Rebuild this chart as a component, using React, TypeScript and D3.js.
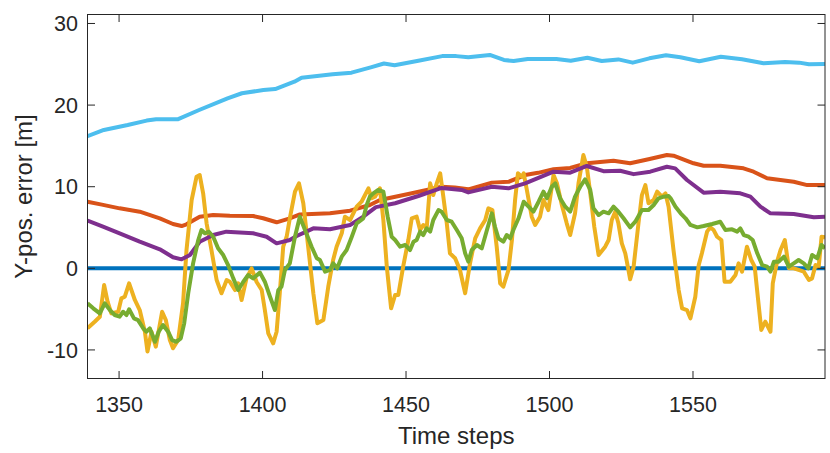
import React from "react";
import * as d3 from "d3";

const xTicks = [1350, 1400, 1450, 1500, 1550];
const yTicks = [-10, 0, 10, 20, 30];
const xDomain = [1339, 1596];
const yDomain = [-13.5, 31.1];

const zeroLine: [number, number][] = [[1339, 0], [1596, 0]];

const orangeSeries: [number, number][] = [[1339,8.16],[1344,7.8],[1350.2,7.35],[1357.2,6.94],[1364.2,6.13],[1368.8,5.43],[1371.8,5.18],[1373.5,5.39],[1378.1,6.33],[1382.8,6.53],[1388.6,6.45],[1396.7,6.41],[1400.2,6.13],[1404.9,5.64],[1409.5,6.13],[1413,6.6],[1423.5,6.74],[1430.5,7.06],[1437.4,7.76],[1440.9,8.37],[1450.8,9.1],[1462.4,10.0],[1467,9.9],[1471.7,9.68],[1479.9,10.5],[1485.7,10.6],[1491.5,11.43],[1496,11.7],[1501.4,12.13],[1507.2,12.3],[1513,12.87],[1522.3,13.19],[1528.1,12.87],[1534.5,13.36],[1540.9,13.88],[1543.2,13.8],[1550.2,12.87],[1553.7,12.57],[1559.5,12.57],[1567.6,12.25],[1571.1,11.84],[1575.8,11.03],[1585.1,10.6],[1589.8,10.2],[1596,10.2]];

const yellowSeries: [number, number][] = [[1339,-7.35],[1341.5,-6.54],[1343.3,-5.93],[1344.8,-2.05],[1346,-4.09],[1347.3,-5.52],[1349.7,-5.32],[1350.8,-3.68],[1352,-3.48],[1353.5,-1.84],[1355.5,-3.88],[1357.2,-5.11],[1359,-7.77],[1359.9,-10.2],[1361.3,-7.77],[1362.8,-9.6],[1365,-5.32],[1366.3,-6.34],[1367.7,-8.79],[1368.8,-9.8],[1370.6,-8.79],[1372.3,-4.29],[1373.5,2.24],[1375.3,8.37],[1377,11.23],[1378.1,11.43],[1379.3,9.19],[1380.5,5.51],[1382.2,2.24],[1384,-1.43],[1385.7,-3.06],[1387.5,-1.43],[1388.6,-1.64],[1390.4,-2.66],[1391.5,-1.84],[1392.7,-3.88],[1394.4,-1.23],[1396.2,0],[1397.9,-1.64],[1399.7,-2.66],[1400.8,-5.11],[1402,-7.97],[1403.7,-9.19],[1404.9,-7.77],[1406,-3.06],[1407.2,2.65],[1408.4,3.87],[1409.5,6.13],[1411.3,9.39],[1412.7,10.41],[1414.2,7.97],[1415.9,2.65],[1417.7,-3.06],[1419.1,-6.74],[1421.2,-6.34],[1422.9,-2.25],[1424.6,1.02],[1425.8,2.65],[1427.6,4.29],[1428.7,6.33],[1430.5,5.92],[1432.8,7.55],[1434.5,8.16],[1436.9,9.8],[1438,8.58],[1439.2,8.78],[1440.9,9.8],[1442.1,5.92],[1443.3,0.2],[1444.8,-4.9],[1446.2,-3.27],[1447.3,-3.27],[1449,0.2],[1450.8,3.47],[1452,6.13],[1453.7,6.33],[1454.9,4.69],[1456,5.31],[1457.2,4.9],[1458.4,10.41],[1459.5,8.98],[1460.7,10.41],[1461.9,11.64],[1463,8.78],[1464.2,5.51],[1465.3,1.84],[1467.1,1.23],[1468.8,-0.2],[1470.6,-3.06],[1472.3,0.61],[1474.1,3.68],[1475.8,4.9],[1477.6,5.92],[1478.7,7.35],[1480.1,7.14],[1481.6,2.65],[1482.8,-1.84],[1483.9,-2.25],[1485.7,-0.2],[1486.9,3.47],[1488,8.37],[1489,11.64],[1490.4,11.23],[1491,11.64],[1492.1,9.6],[1493.8,6.33],[1495,5.31],[1496.7,6.33],[1497.9,8.37],[1499.6,7.14],[1501.4,11.43],[1502.6,10.41],[1504.3,7.76],[1506,5.51],[1507.2,4.08],[1508.9,6.74],[1510.1,10.41],[1511.8,13.88],[1513,12.45],[1514.2,9.19],[1515.6,5.1],[1517.1,1.63],[1519.4,2.65],[1520.6,3.47],[1521.7,5.92],[1522.9,6.94],[1524,5.51],[1525.2,3.06],[1526.4,1.84],[1527.5,-0.2],[1528.1,-1.35],[1529.3,0.2],[1531,5.51],[1532.2,8.98],[1533.4,10.2],[1534.5,7.97],[1536.3,8.37],[1537.5,9.39],[1539.2,8.78],[1540.4,9.19],[1541.5,7.55],[1543.2,2.24],[1545,-2.66],[1546.2,-4.9],[1547.9,-5.11],[1549.1,-6.13],[1550.8,-3.48],[1552,0.4],[1553.1,1.84],[1554.9,4.49],[1556,5.02],[1557.2,4.69],[1558.4,3.87],[1559.9,3.47],[1561,-1.64],[1563,-1.64],[1564.8,-0.82],[1565.9,0.61],[1567.1,-0.41],[1568.8,2.65],[1570.3,1.02],[1571.5,0.2],[1572.7,-3.88],[1573.8,-7.55],[1575.2,-6.54],[1577,-7.77],[1577.8,-1.84],[1579.3,0.82],[1580.5,2.24],[1582,3.47],[1583.4,0],[1585.1,0],[1586.8,-0.2],[1588.6,-0.41],[1590.4,-1.43],[1591.5,-1.23],[1592.7,0.4],[1593.8,0.2],[1594.8,3.87],[1596,3.8]];

const purpleSeries: [number, number][] = [[1339,5.84],[1344.4,5.1],[1350.2,4.29],[1357.2,3.26],[1364.2,2.33],[1368.8,1.35],[1371.8,1.1],[1374.7,1.63],[1378.1,3.26],[1382.8,4.08],[1387.4,4.49],[1396.7,4.29],[1401.4,3.87],[1404.9,3.06],[1409.5,3.47],[1411.9,3.96],[1417.7,4.9],[1423.5,4.78],[1430.5,5.31],[1435.1,6.33],[1439.5,7.5],[1446.2,7.97],[1454.3,8.86],[1462.4,9.85],[1469.4,9.6],[1471.7,9.3],[1479.9,10.0],[1485.7,9.8],[1491.5,10.4],[1501.4,11.84],[1507.2,11.72],[1513,12.54],[1518.8,11.9],[1524.6,11.96],[1529.3,11.54],[1535.1,11.84],[1540.9,12.45],[1543.8,12.25],[1547.9,10.82],[1553.7,9.27],[1559.5,9.39],[1566.5,9.19],[1570,8.78],[1573.5,7.55],[1577,6.74],[1585.1,6.65],[1592.1,6.25],[1596,6.33]];

const greenSeries: [number, number][] = [[1339,-4.29],[1341,-4.9],[1343.3,-5.52],[1345,-4.29],[1346.8,-5.11],[1348.5,-5.72],[1350.2,-5.93],[1351.4,-5.32],[1352.6,-5.72],[1353.5,-5.02],[1355.2,-6.13],[1356.6,-6.34],[1358.4,-7.35],[1359.5,-7.77],[1360.7,-7.35],[1362.5,-9.0],[1363.8,-7.77],[1365.3,-6.95],[1367.1,-7.77],[1368.5,-8.79],[1370,-9.0],[1371.5,-8.58],[1372.7,-6.74],[1374.1,-3.06],[1375.8,0.61],[1377.6,3.47],[1378.7,4.69],[1379.9,4.29],[1381.3,4.49],[1382.8,3.87],[1384.5,2.45],[1386.3,1.63],[1388,0.4],[1389.8,-1.23],[1391.5,-2.66],[1393.3,-1.64],[1395,-0.82],[1396.7,-1.23],[1399.1,-0.53],[1400.8,-1.64],[1402.6,-3.48],[1404.3,-5.11],[1405.5,-2.66],[1406.6,-2.25],[1407.8,-0.2],[1409.5,0.61],[1411.3,3.87],[1413,6.33],[1414.8,4.69],[1417.1,2.65],[1418.9,1.23],[1420,1.02],[1421.8,-0.41],[1423.5,-0.2],[1424.6,0.61],[1426,0],[1427.6,1.43],[1429.3,2.24],[1431.1,3.87],[1432.8,5.51],[1435.1,6.13],[1436.3,7.76],[1437.4,8.78],[1438.6,9.19],[1440.3,9.6],[1442.1,9.39],[1443.6,6.33],[1445,3.87],[1446.2,3.47],[1447.9,2.65],[1449.7,2.86],[1451.4,2.24],[1452.6,3.26],[1453.7,3.47],[1454.9,4.49],[1456,4.08],[1457.2,4.9],[1458.4,4.49],[1459.5,5.92],[1461.3,7.14],[1462.4,6.94],[1464.2,5.92],[1465.9,5.71],[1467.7,4.69],[1469.4,3.68],[1470.6,1.84],[1471.7,0.82],[1472.9,2.24],[1474.7,2.86],[1476.4,2.45],[1478.2,4.69],[1479.9,6.74],[1481,5.1],[1482.2,3.68],[1483.9,3.26],[1485.1,4.08],[1486.3,3.68],[1487.4,4.69],[1489.2,6.13],[1491,8.16],[1492.7,7.55],[1494.4,6.94],[1496.2,8.16],[1497.9,9.39],[1499.1,8.58],[1500.8,10.0],[1502,10.41],[1503.7,8.58],[1505.5,7.55],[1507.2,6.94],[1508.9,8.78],[1510.7,10.0],[1512.4,10.9],[1514.2,9.6],[1515.3,7.35],[1517.1,6.53],[1518.8,6.94],[1520.6,6.74],[1522.3,7.55],[1524,6.94],[1525.8,6.13],[1528.1,5.02],[1529.9,5.71],[1532.2,7.14],[1534.5,7.14],[1536.3,7.76],[1538,8.58],[1539.8,8.78],[1541.5,8.86],[1542.2,8.58],[1543.9,7.55],[1545.7,6.74],[1547.4,6.13],[1549.1,5.31],[1551.5,5.02],[1553.7,5.18],[1556.7,5.43],[1559.5,5.71],[1561.3,4.69],[1563.6,4.78],[1565.4,4.49],[1566.5,4.9],[1567.7,4.08],[1569.4,3.87],[1570.8,3.47],[1572.4,1.84],[1574.1,0.4],[1575.8,0.2],[1577,-0.41],[1578.2,0.82],[1579.9,0.82],[1581.7,1.43],[1583.4,0.2],[1585.1,0.61],[1586.8,1.02],[1588.6,0.61],[1590.2,0],[1591.5,1.63],[1593.3,1.23],[1594.8,2.86],[1596,2.45]];

const lightBlueSeries: [number, number][] = [[1339,16.2],[1344.7,16.95],[1353,17.56],[1359.6,18.1],[1362.9,18.26],[1370.4,18.26],[1377.9,19.4],[1387.8,20.83],[1392.8,21.45],[1400.3,21.85],[1404.4,21.97],[1411.1,22.87],[1413.6,23.36],[1424.4,23.77],[1431,23.97],[1437.7,24.63],[1442.3,25.1],[1446,24.88],[1454.3,25.44],[1462.6,26.0],[1467.5,26.0],[1471.7,25.86],[1479.2,26.14],[1484.1,25.53],[1487.5,25.4],[1492.4,25.65],[1502.4,25.65],[1507.4,25.44],[1513.2,25.8],[1518.2,25.4],[1524,25.6],[1529,25.2],[1534.8,25.73],[1540.6,26.1],[1545.6,25.86],[1552.2,25.37],[1559.7,25.93],[1567.1,25.61],[1574.6,25.12],[1582.1,25.28],[1587,25.2],[1590.4,25.0],[1596,25.04]];

const seriesList = [
  { name: "zero", data: zeroLine, color: "#0072BD" },
  { name: "orange", data: orangeSeries, color: "#D95319" },
  { name: "yellow", data: yellowSeries, color: "#EDB120" },
  { name: "purple", data: purpleSeries, color: "#7E2F8E" },
  { name: "green", data: greenSeries, color: "#77AC30" },
  { name: "lightblue", data: lightBlueSeries, color: "#4DBEEE" },
];

const W = 830;
const H = 453;
const left = 87.5;
const right = 825;
const top = 14.5;
const bottom = 378.5;
const axisColor = "#262626";
const font = "'Liberation Sans', Arial, Helvetica, sans-serif";
const tickLen = 7.5;

export default function App() {
  const x = d3.scaleLinear().domain(xDomain).range([left, right]);
  const y = d3.scaleLinear().domain(yDomain).range([bottom, top]);
  const line = d3
    .line<[number, number]>()
    .x((d) => x(d[0]))
    .y((d) => y(d[1]));

  return (
    <svg
      width={W}
      height={H}
      style={{ position: "absolute", left: 0, top: 0, background: "#fff" }}
      fontFamily={font}
    >
      <rect x={0} y={0} width={W} height={H} fill="#fff" />
      <defs>
        <clipPath id="plotClip">
          <rect x={left} y={top} width={right - left} height={bottom - top} />
        </clipPath>
      </defs>
      <g clipPath="url(#plotClip)">
        {seriesList.map((s) => (
          <path
            key={s.name}
            d={line(s.data) || ""}
            fill="none"
            stroke={s.color}
            strokeWidth={4}
            strokeLinejoin="round"
            strokeLinecap="butt"
          />
        ))}
      </g>
      <rect
        x={left}
        y={top}
        width={right - left}
        height={bottom - top}
        fill="none"
        stroke={axisColor}
        strokeWidth={1}
      />
      {xTicks.map((t) => (
        <g key={"x" + t}>
          <line x1={x(t)} x2={x(t)} y1={bottom} y2={bottom - tickLen} stroke={axisColor} strokeWidth={1} />
          <line x1={x(t)} x2={x(t)} y1={top} y2={top + tickLen} stroke={axisColor} strokeWidth={1} />
          <text x={x(t)} y={412} textAnchor="middle" fontSize={21.5} fill={axisColor}>
            {t}
          </text>
        </g>
      ))}
      {yTicks.map((t) => (
        <g key={"y" + t}>
          <line x1={left} x2={left + tickLen} y1={y(t)} y2={y(t)} stroke={axisColor} strokeWidth={1} />
          <line x1={right} x2={right - tickLen} y1={y(t)} y2={y(t)} stroke={axisColor} strokeWidth={1} />
          <text x={78} y={y(t)} dy="0.36em" textAnchor="end" fontSize={21.5} fill={axisColor}>
            {t}
          </text>
        </g>
      ))}
      <text x={(left + right) / 2} y={444} textAnchor="middle" fontSize={24} fill={axisColor}>
        Time steps
      </text>
      <text
        transform={`translate(31.5, ${(top + bottom) / 2}) rotate(-90)`}
        textAnchor="middle"
        fontSize={24}
        fill={axisColor}
      >
        Y-pos. error [m]
      </text>
    </svg>
  );
}
